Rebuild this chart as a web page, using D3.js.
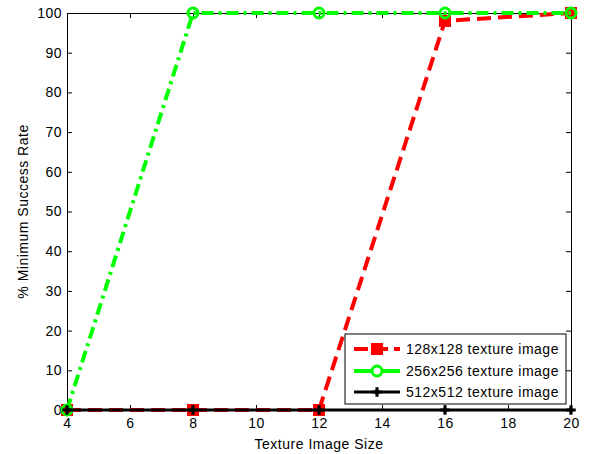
<!DOCTYPE html>
<html>
<head>
<meta charset="utf-8">
<script src="https://cdn.jsdelivr.net/npm/d3@7"></script>
<style>
  body { margin: 0; background: #fff; }
  svg { font-family: Arial, "Liberation Sans", sans-serif; }
  text { letter-spacing: 0.5px; }
</style>
</head>
<body>
<div id="chart"></div>
<script>
const sizes = [4, 8, 12, 16, 20];
const rate128 = [0, 0, 0, 98, 100];
const rate256 = [0, 100, 100, 100, 100];
const rate512 = [0, 0, 0, 0, 0];
const xTicks = [4, 6, 8, 10, 12, 14, 16, 18, 20];
const yTicks = [0, 10, 20, 30, 40, 50, 60, 70, 80, 90, 100];
const seriesNames = ['128x128 texture image', '256x256 texture image', '512x512 texture image'];

const W = 590, H = 454;
const margin = { top: 13, right: 19, bottom: 44, left: 67 };
const width = W - margin.left - margin.right;
const height = H - margin.top - margin.bottom;

const svg = d3.select('#chart').append('svg').attr('width', W).attr('height', H);
const g = svg.append('g').attr('transform', `translate(${margin.left},${margin.top})`);

const x = d3.scaleLinear().domain([4, 20]).range([0, width]);
const y = d3.scaleLinear().domain([0, 100]).range([height, 0]);

// axes with inward ticks, mirrored on top/right
const styleAxis = sel => {
  sel.select('.domain').attr('stroke', '#000').attr('stroke-width', 1);
  sel.selectAll('.tick line').attr('stroke', '#000');
  sel.selectAll('text').attr('font-size', '14px').attr('fill', '#000');
};
g.append('g').attr('transform', `translate(0,${height})`)
  .call(d3.axisBottom(x).tickValues(xTicks).tickSize(-5).tickPadding(8).tickSizeOuter(0))
  .call(styleAxis);
g.append('g')
  .call(d3.axisTop(x).tickValues(xTicks).tickSize(-5).tickFormat('').tickSizeOuter(0))
  .call(styleAxis);
g.append('g')
  .call(d3.axisLeft(y).tickValues(yTicks).tickSize(-5).tickPadding(5).tickSizeOuter(0))
  .call(styleAxis);
g.append('g').attr('transform', `translate(${width},0)`)
  .call(d3.axisRight(y).tickValues(yTicks).tickSize(-5).tickFormat('').tickSizeOuter(0))
  .call(styleAxis);

svg.append('text').attr('x', margin.left + width / 2).attr('y', 449)
  .attr('text-anchor', 'middle').attr('font-size', '14px').text('Texture Image Size');
svg.append('text').attr('transform', `translate(28,${margin.top + height / 2}) rotate(-90)`)
  .attr('text-anchor', 'middle').attr('font-size', '14px').text('% Minimum Success Rate');

const line = d3.line().x((d, i) => x(sizes[i])).y(d => y(d));

// 128x128: red dashed, square markers
g.append('path').datum(rate128).attr('d', line).attr('fill', 'none')
  .attr('stroke', '#ff0000').attr('stroke-width', 4).attr('stroke-dasharray', '14,7');
g.selectAll('.sq').data(rate128).enter().append('rect')
  .attr('x', (d, i) => x(sizes[i]) - 6).attr('y', d => y(d) - 6)
  .attr('width', 12).attr('height', 12).attr('fill', '#ff0000');

// 256x256: green dash-dot, circle markers
g.append('path').datum(rate256).attr('d', line).attr('fill', 'none')
  .attr('stroke', '#00ff00').attr('stroke-width', 4).attr('stroke-dasharray', '12,5,3,5');
g.selectAll('.ci').data(rate256).enter().append('circle')
  .attr('cx', (d, i) => x(sizes[i])).attr('cy', d => y(d)).attr('r', 5)
  .attr('fill', 'none').attr('stroke', '#00ff00').attr('stroke-width', 3);

// 512x512: black solid, small filled markers
g.append('path').datum(rate512).attr('d', line).attr('fill', 'none')
  .attr('stroke', '#000').attr('stroke-width', 3);
g.selectAll('.st').data(rate512).enter().append('path')
  .attr('transform', (d, i) => `translate(${x(sizes[i])},${y(d)})`)
  .attr('d', d3.symbol(d3.symbolCross, 50)).attr('fill', '#000');

// legend
const lg = svg.append('g').attr('transform', 'translate(345,334)');
lg.append('rect').attr('width', 221).attr('height', 70).attr('fill', '#fff')
  .attr('stroke', '#000').attr('stroke-width', 1);
const rowY = [15, 37, 58];
const lineX = [9, 55];
// red
lg.append('line').attr('x1', lineX[0]).attr('x2', lineX[1]).attr('y1', rowY[0]).attr('y2', rowY[0])
  .attr('stroke', '#ff0000').attr('stroke-width', 4).attr('stroke-dasharray', '14,6');
lg.append('rect').attr('x', 26).attr('y', rowY[0] - 6).attr('width', 12).attr('height', 12).attr('fill', '#ff0000');
// green
lg.append('line').attr('x1', lineX[0]).attr('x2', lineX[1]).attr('y1', rowY[1]).attr('y2', rowY[1])
  .attr('stroke', '#00ff00').attr('stroke-width', 4);
lg.append('circle').attr('cx', 32).attr('cy', rowY[1]).attr('r', 5)
  .attr('fill', '#fff').attr('stroke', '#00ff00').attr('stroke-width', 3);
// black
lg.append('line').attr('x1', lineX[0]).attr('x2', lineX[1]).attr('y1', rowY[2]).attr('y2', rowY[2])
  .attr('stroke', '#000').attr('stroke-width', 3);
lg.append('path').attr('transform', `translate(32,${rowY[2]})`)
  .attr('d', d3.symbol(d3.symbolCross, 50)).attr('fill', '#000');

lg.selectAll('.lt').data(seriesNames).enter().append('text')
  .attr('x', 61).attr('y', (d, i) => rowY[i] + 5)
  .attr('font-size', '14px').text(d => d);
</script>
</body>
</html>
